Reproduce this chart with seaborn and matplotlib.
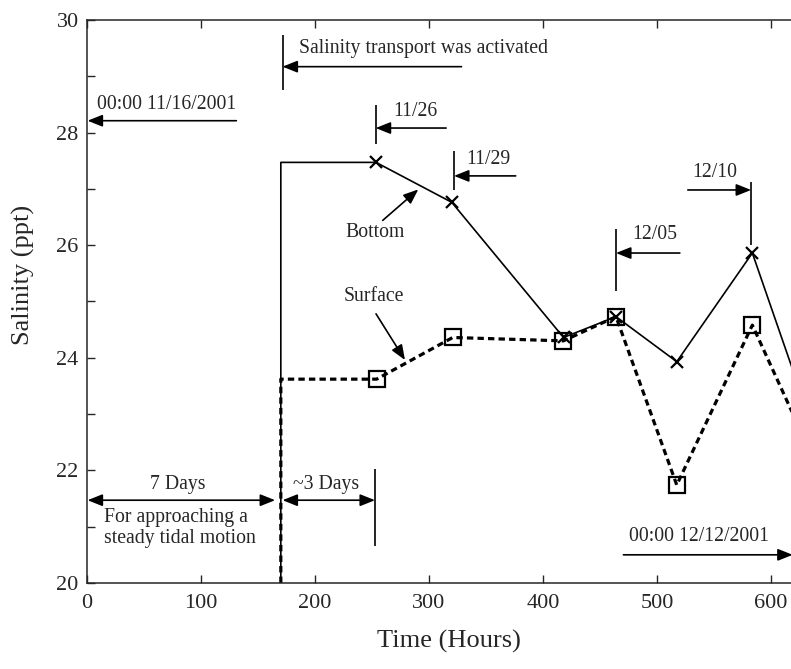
"""Salinity at the bottom and surface over time, with event annotations."""

import matplotlib
matplotlib.use("Agg")
import matplotlib.pyplot as plt
import seaborn as sns
import pandas as pd
from matplotlib.ticker import MultipleLocator

# --- data -------------------------------------------------------------------
bottom_hours = [170, 170, 253.5, 320, 418, 464, 517.3, 583.6, 640]
bottom_salinity = [20.0, 27.47, 27.47, 26.76, 24.36, 24.73, 23.93, 25.86, 22.56]

surface_hours = [170, 170, 254, 320.8, 417.8, 464, 517.3, 583.6, 640]
surface_salinity = [20.0, 23.62, 23.62, 24.36, 24.3, 24.73, 21.74, 24.58, 22.08]

x_ticks = [0, 100, 200, 300, 400, 500, 600]
y_ticks = [20, 22, 24, 26, 28, 30]

bottom = pd.DataFrame({"Time": bottom_hours, "Salinity": bottom_salinity})
surface = pd.DataFrame({"Time": surface_hours, "Salinity": surface_salinity})

# --- style --------------------------------------------------------------------
sns.set_style("ticks")
plt.rcParams["font.family"] = ["Liberation Serif", "DejaVu Serif"]
plt.rcParams["axes.linewidth"] = 1.1

fig = plt.figure(figsize=(7.91, 6.69), dpi=100)
ax = fig.add_axes([0.110, 0.1286, 0.9008, 0.8416])

sns.lineplot(
    data=surface, x="Time", y="Salinity", ax=ax, sort=False, estimator=None,
    color="black", lw=2.3, linestyle=(0, (2, 1.3)),
    marker="s", markersize=11, markerfacecolor="none", markeredgecolor="black",
    markeredgewidth=1.6, markevery=list(range(2, len(surface_hours))),
)
sns.lineplot(
    data=bottom, x="Time", y="Salinity", ax=ax, sort=False, estimator=None,
    color="black", lw=1.2,
    marker="x", markersize=9, markeredgecolor="black", markeredgewidth=1.6,
    markevery=list(range(2, len(bottom_hours))),
)

ax.set_xlim(0, 625)
ax.set_ylim(20, 30)
ax.set_xticks(x_ticks)
ax.set_yticks(y_ticks)
ax.yaxis.set_minor_locator(MultipleLocator(1))
ax.tick_params(which="both", direction="in", top=True, right=True,
               length=6, width=1.0, labelsize=16)
ax.tick_params(axis="x", pad=8)
ax.tick_params(axis="y", pad=6)
for side in ["top", "right", "left", "bottom"]:
    ax.spines[side].set_visible(True)

ax.set_xlabel("Time (Hours)", fontsize=19, va="top")
ax.set_ylabel("Salinity (ppt)", fontsize=19)
ax.xaxis.set_label_coords(0.508, -0.083)
ax.yaxis.set_label_coords(-0.073, 0.547)

# --- annotations --------------------------------------------------------------
head = "-|>,head_length=0.5,head_width=0.2"
dhead = "<|-|>,head_length=0.5,head_width=0.2"
arrow = dict(arrowstyle=head, color="black", lw=1.2, mutation_scale=18,
             shrinkA=0, shrinkB=0)
darrow = dict(arrowstyle=dhead, color="black", lw=1.2, mutation_scale=18,
              shrinkA=0, shrinkB=0)
fs = 14.2


def pointer(tip, tail, props=arrow):
    ax.annotate("", xy=tip, xytext=tail, arrowprops=props)


# start date
pointer((0.5, 28.21), (131, 28.21))
ax.text(9, 28.33, "00:00 11/16/2001", fontsize=fs, va="bottom")

# salinity transport activated
ax.vlines(171.5, 28.76, 29.73, color="black", lw=1.2)
pointer((171.5, 29.17), (328.5, 29.17))
ax.text(186, 29.32, "Salinity transport was activated", fontsize=fs, va="bottom")

# 11/26
ax.vlines(253.2, 27.80, 28.49, color="black", lw=1.2)
pointer((253.2, 28.08), (315, 28.08))
ax.text(268.5, 28.2, "11/26", fontsize=fs, va="bottom")

# 11/29
ax.vlines(321.9, 26.98, 27.67, color="black", lw=1.2)
pointer((321.9, 27.23), (376, 27.23))
ax.text(333, 27.36, "11/29", fontsize=fs, va="bottom")

# 12/05
ax.vlines(464, 25.19, 26.28, color="black", lw=1.2)
pointer((464, 25.86), (520, 25.86))
ax.text(478, 26.02, "12/05", fontsize=fs, va="bottom")

# 12/10
ax.vlines(582.5, 26.01, 27.12, color="black", lw=1.2)
pointer((582.5, 26.98), (527, 26.98))
ax.text(531, 27.13, "12/10", fontsize=fs, va="bottom")

# end date
pointer((619, 20.5), (470.5, 20.5))
ax.text(475, 20.66, "00:00 12/12/2001", fontsize=fs, va="bottom")

# line labels
ax.text(252.6, 26.22, "Bottom", fontsize=fs, ha="center", va="center")
pointer((290.6, 26.99), (259.4, 26.44))
ax.text(251.2, 25.09, "Surface", fontsize=fs, ha="center", va="center")
pointer((278.9, 23.96), (253.5, 24.78))

# spin-up periods
pointer((0.5, 21.47), (165, 21.47), darrow)
ax.text(80, 21.74, "7 Days", fontsize=fs, ha="center", va="center")
ax.text(15, 20.98, "For approaching a\nsteady tidal motion", fontsize=fs,
        ha="left", va="center", linespacing=1.15)

pointer((171.5, 21.47), (252.6, 21.47), darrow)
ax.vlines(252.6, 20.65, 22.02, color="black", lw=1.2)
ax.text(210, 21.74, "~3 Days", fontsize=fs, ha="center", va="center")

fig.savefig("out.png", dpi=100)
